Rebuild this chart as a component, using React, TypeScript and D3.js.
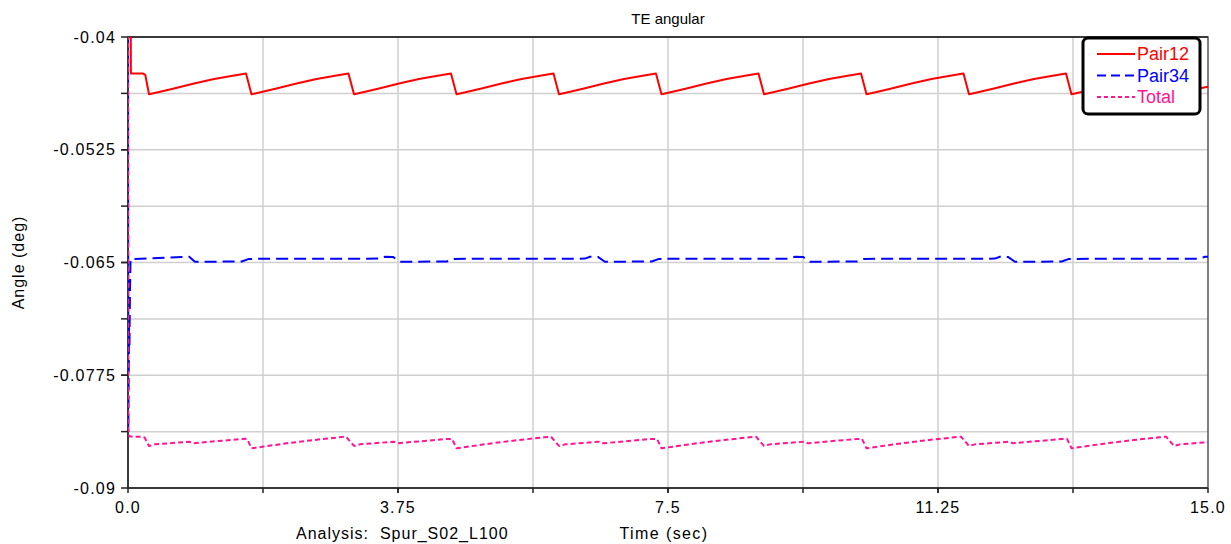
import React, { useEffect, useRef } from 'react';
import * as d3 from 'd3';

// time (sec) / angle (deg) pairs
const pair12: [number, number][] = [
  [0, -0.03], [0.035, -0.03], [0.04, -0.04405], [0.21, -0.04405], [0.24, -0.0442],
  [0.292, -0.04635], [0.431, -0.0461], [0.639, -0.04571], [0.917, -0.04516], [1.195, -0.04466], [1.473, -0.04427], [1.639, -0.04405],
  [1.715, -0.04635], [1.854, -0.0461], [2.062, -0.04571], [2.34, -0.04516], [2.618, -0.04466], [2.896, -0.04427], [3.062, -0.04405],
  [3.139, -0.04635], [3.278, -0.0461], [3.486, -0.04571], [3.764, -0.04516], [4.042, -0.04466], [4.32, -0.04427], [4.486, -0.04405],
  [4.563, -0.04635], [4.702, -0.0461], [4.91, -0.04571], [5.188, -0.04516], [5.466, -0.04466], [5.744, -0.04427], [5.91, -0.04405],
  [5.986, -0.04635], [6.125, -0.0461], [6.333, -0.04571], [6.611, -0.04516], [6.889, -0.04466], [7.167, -0.04427], [7.333, -0.04405],
  [7.41, -0.04635], [7.549, -0.0461], [7.757, -0.04571], [8.035, -0.04516], [8.313, -0.04466], [8.591, -0.04427], [8.757, -0.04405],
  [8.834, -0.04635], [8.973, -0.0461], [9.181, -0.04571], [9.459, -0.04516], [9.737, -0.04466], [10.015, -0.04427], [10.181, -0.04405],
  [10.257, -0.04635], [10.396, -0.0461], [10.604, -0.04571], [10.882, -0.04516], [11.16, -0.04466], [11.438, -0.04427], [11.604, -0.04405],
  [11.681, -0.04635], [11.82, -0.0461], [12.028, -0.04571], [12.306, -0.04516], [12.584, -0.04466], [12.862, -0.04427], [13.028, -0.04405],
  [13.104, -0.04635], [13.243, -0.0461], [13.451, -0.04571], [13.729, -0.04516], [14.007, -0.04466], [14.285, -0.04427], [14.451, -0.04405],
  [14.528, -0.04635], [14.667, -0.0461], [14.875, -0.04571], [15.0, -0.0455],
];

const pair34: [number, number][] = [
  [0, -0.03], [0.004, -0.0835], [0.015, -0.072], [0.02, -0.0745], [0.028, -0.068], [0.035, -0.06462],
  [0.75, -0.0644], [0.85, -0.06436],
  [0.93, -0.06492], [1.58, -0.06489], [1.68, -0.0646], [3.499, -0.06457], [3.569, -0.06436], [3.68, -0.06438],
  [3.777, -0.06492], [4.427, -0.06489], [4.527, -0.0646], [6.346, -0.06457], [6.416, -0.06436], [6.527, -0.06438],
  [6.624, -0.06492], [7.274, -0.06489], [7.374, -0.0646], [9.193, -0.06457], [9.263, -0.06436], [9.374, -0.06438],
  [9.471, -0.06492], [10.121, -0.06489], [10.221, -0.0646], [12.04, -0.06457], [12.11, -0.06436], [12.221, -0.06438],
  [12.319, -0.06492], [12.969, -0.06489], [13.069, -0.0646], [14.888, -0.06457], [14.958, -0.06436], [15.0, -0.06437],
];

const total: [number, number][] = [
  [0, -0.03], [0.006, -0.0834], [0.02, -0.0843], [0.19, -0.08431], [0.23, -0.0844],
  [0.292, -0.08534], [0.375, -0.08516], [0.848, -0.08487], [0.903, -0.08504], [1.57, -0.08457], [1.653, -0.08455],
  [1.716, -0.0856], [1.889, -0.0854], [2.236, -0.08501], [2.584, -0.08468], [2.931, -0.08438], [3.028, -0.08431],
  [3.139, -0.08534], [3.222, -0.08516], [3.695, -0.08487], [3.75, -0.08504], [4.417, -0.08457], [4.5, -0.08455],
  [4.563, -0.0856], [4.736, -0.0854], [5.083, -0.08501], [5.431, -0.08468], [5.778, -0.08438], [5.875, -0.08431],
  [5.986, -0.08534], [6.069, -0.08516], [6.542, -0.08487], [6.597, -0.08504], [7.264, -0.08457], [7.347, -0.08455],
  [7.41, -0.0856], [7.583, -0.0854], [7.93, -0.08501], [8.278, -0.08468], [8.625, -0.08438], [8.722, -0.08431],
  [8.833, -0.08534], [8.916, -0.08516], [9.389, -0.08487], [9.444, -0.08504], [10.111, -0.08457], [10.194, -0.08455],
  [10.257, -0.0856], [10.43, -0.0854], [10.777, -0.08501], [11.125, -0.08468], [11.472, -0.08438], [11.569, -0.08431],
  [11.681, -0.08534], [11.764, -0.08516], [12.237, -0.08487], [12.292, -0.08504], [12.959, -0.08457], [13.042, -0.08455],
  [13.105, -0.0856], [13.278, -0.0854], [13.625, -0.08501], [13.973, -0.08468], [14.32, -0.08438], [14.417, -0.08431],
  [14.528, -0.08534], [14.611, -0.08516], [15.0, -0.08492],
];

const yTicks = [-0.04, -0.0525, -0.065, -0.0775, -0.09];
const yTickLabels = ['-0.04', '-0.0525', '-0.065', '-0.0775', '-0.09'];
const xTicks = [0, 3.75, 7.5, 11.25, 15];
const xTickLabels = ['0.0', '3.75', '7.5', '11.25', '15.0'];

const series = [
  { name: 'Pair12', data: pair12, color: '#ff0000', dash: null },
  { name: 'Pair34', data: pair34, color: '#0000ff', dash: '12,6' },
  { name: 'Total', data: total, color: '#ff1493', dash: '5,3' },
];

const App = () => {
  const ref = useRef<SVGSVGElement>(null);

  useEffect(() => {
    const width = 1231;
    const height = 544;
    const m = { left: 128, right: 1208, top: 37, bottom: 488 };
    const font = "'Liberation Sans', Arial, sans-serif";

    const x = d3.scaleLinear().domain([0, 15]).range([m.left, m.right]);
    const y = d3.scaleLinear().domain([-0.09, -0.04]).range([m.bottom, m.top]);

    const svg = d3.select(ref.current)
      .attr('width', width)
      .attr('height', height)
      .attr('font-family', font);

    svg.selectAll('*').remove();

    svg.append('rect').attr('width', width).attr('height', height).attr('fill', '#fff');

    // grid, every half major step
    const xMinor = d3.range(1, 8).map(i => i * 1.875);
    const yMinor = d3.range(1, 8).map(i => -0.09 + i * 0.00625);

    svg.append('g')
      .selectAll('line')
      .data(xMinor)
      .join('line')
      .attr('x1', d => x(d)).attr('x2', d => x(d))
      .attr('y1', m.top).attr('y2', m.bottom)
      .attr('stroke', '#cfcfcf').attr('stroke-width', 1.5);

    svg.append('g')
      .selectAll('line')
      .data(yMinor)
      .join('line')
      .attr('x1', m.left).attr('x2', m.right)
      .attr('y1', d => y(d)).attr('y2', d => y(d))
      .attr('stroke', '#cfcfcf').attr('stroke-width', 1.5);

    // frame
    svg.append('rect')
      .attr('x', m.left).attr('y', m.top)
      .attr('width', m.right - m.left).attr('height', m.bottom - m.top)
      .attr('fill', 'none').attr('stroke', '#555').attr('stroke-width', 1.5);
    svg.append('line')
      .attr('x1', m.left).attr('x2', m.right).attr('y1', m.top).attr('y2', m.top)
      .attr('stroke', '#222').attr('stroke-width', 1.5);
    svg.append('line')
      .attr('x1', m.left).attr('x2', m.left).attr('y1', m.top).attr('y2', m.bottom)
      .attr('stroke', '#222').attr('stroke-width', 1.5);
    svg.append('line')
      .attr('x1', m.left).attr('x2', m.right).attr('y1', m.bottom).attr('y2', m.bottom)
      .attr('stroke', '#222').attr('stroke-width', 1.5);

    // y axis ticks
    const yAxis = svg.append('g').attr('transform', `translate(${m.left},0)`);
    yAxis.selectAll('line.tk')
      .data(yTicks.concat(yMinor))
      .join('line')
      .attr('class', 'tk')
      .attr('x1', -7).attr('x2', 0)
      .attr('y1', d => y(d)).attr('y2', d => y(d))
      .attr('stroke', '#222').attr('stroke-width', 1.5);
    yAxis.selectAll('text')
      .data(yTicks)
      .join('text')
      .attr('x', -12)
      .attr('y', d => y(d))
      .attr('dy', '0.35em')
      .attr('text-anchor', 'end')
      .attr('font-size', 16)
      .attr('letter-spacing', 1.2)
      .attr('fill', '#000')
      .text((d, i) => yTickLabels[i]);

    // x axis ticks
    const xAxis = svg.append('g').attr('transform', `translate(0,${m.bottom})`);
    xAxis.selectAll('line.tk')
      .data(xTicks.concat(xMinor))
      .join('line')
      .attr('class', 'tk')
      .attr('x1', d => x(d)).attr('x2', d => x(d))
      .attr('y1', 0).attr('y2', 5)
      .attr('stroke', '#222').attr('stroke-width', 1.5);
    xAxis.selectAll('text')
      .data(xTicks)
      .join('text')
      .attr('x', d => x(d))
      .attr('y', 25)
      .attr('text-anchor', 'middle')
      .attr('font-size', 16)
      .attr('letter-spacing', 1.2)
      .attr('fill', '#000')
      .text((d, i) => xTickLabels[i]);

    // titles
    svg.append('text')
      .attr('x', 668).attr('y', 24)
      .attr('text-anchor', 'middle').attr('font-size', 15)
      .text('TE angular');
    svg.append('text')
      .attr('transform', `translate(24,${(m.top + m.bottom) / 2}) rotate(-90)`)
      .attr('text-anchor', 'middle').attr('font-size', 16)
      .attr('letter-spacing', 1)
      .text('Angle (deg)');
    svg.append('text')
      .attr('x', 296).attr('y', 539)
      .attr('font-size', 16)
      .attr('letter-spacing', 1)
      .attr('xml:space', 'preserve')
      .text('Analysis:  Spur_S02_L100');
    svg.append('text')
      .attr('x', 664).attr('y', 539)
      .attr('text-anchor', 'middle').attr('font-size', 16)
      .attr('letter-spacing', 1.4)
      .text('Time (sec)');

    // lines
    svg.append('clipPath').attr('id', 'plot-clip')
      .append('rect')
      .attr('x', m.left).attr('y', m.top)
      .attr('width', m.right - m.left).attr('height', m.bottom - m.top);

    const line = d3.line<[number, number]>()
      .x(d => x(d[0]))
      .y(d => y(d[1]));

    const lines = svg.append('g').attr('clip-path', 'url(#plot-clip)');
    series.forEach(s => {
      lines.append('path')
        .datum(s.data)
        .attr('fill', 'none')
        .attr('stroke', s.color)
        .attr('stroke-width', 2)
        .attr('stroke-dasharray', s.dash)
        .attr('stroke-linejoin', 'round')
        .attr('d', line);
    });

    // legend
    const lg = svg.append('g').attr('transform', 'translate(1083,38)');
    lg.append('rect')
      .attr('width', 117).attr('height', 76)
      .attr('rx', 5).attr('ry', 5)
      .attr('fill', '#fff').attr('stroke', '#000').attr('stroke-width', 3);
    const items = lg.selectAll('g.item')
      .data(series)
      .join('g')
      .attr('class', 'item')
      .attr('transform', (d, i) => `translate(0,${16 + i * 21.5})`);
    items.append('line')
      .attr('x1', 14).attr('x2', 52)
      .attr('stroke', d => d.color)
      .attr('stroke-width', 2)
      .attr('stroke-dasharray', d => d.name === 'Pair34' ? '9,5' : d.name === 'Total' ? '4,3' : null);
    items.append('text')
      .attr('x', 54).attr('dy', '0.35em')
      .attr('font-size', 18)
      .attr('fill', d => d.color)
      .text(d => d.name);
  }, []);

  return <svg ref={ref} style={{ position: 'absolute', left: 0, top: 0 }} />;
};

export default App;
